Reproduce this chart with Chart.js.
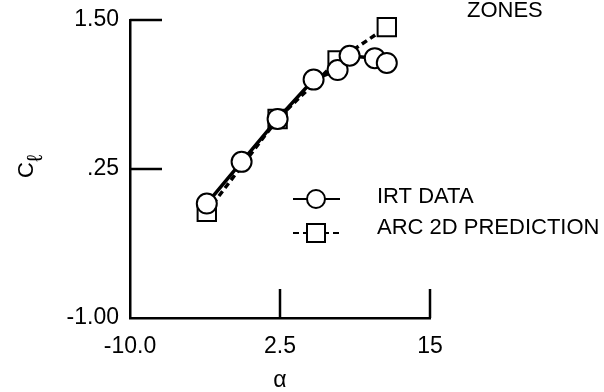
<!DOCTYPE html>
<html>
<head>
<meta charset="utf-8">
<script src="https://cdn.jsdelivr.net/npm/chart.js@4.4.0/dist/chart.umd.min.js"></script>
<style>
    html, body { margin: 0; padding: 0; background: #fff; }
    canvas { display: block; }
</style>
</head>
<body>
<canvas id="chart" width="604" height="392"></canvas>
<script>
// IRT data (circles, solid line)
var irtAlpha = [-3.6, -0.7, 2.3, 5.3, 7.3, 8.3, 10.4, 11.4];
var irtCl = [-0.04, 0.31, 0.67, 1.00, 1.08, 1.20, 1.18, 1.14];

// ARC 2D prediction (squares, dashed line)
var arcAlpha = [-3.6, 2.3, 7.3, 11.4];
var arcCl = [-0.11, 0.67, 1.16, 1.44];

// Axis ticks and labels
var xTicks = [-10, 2.5, 15];
var xTickLabels = ['-10.0', '2.5', '15'];
var yTicks = [-1, 0.25, 1.5];
var yTickLabels = ['-1.00', '.25', '1.50'];

var FONT = "'Liberation Sans', Arial, sans-serif";
var SIZE = 23;
Chart.defaults.font.family = FONT;
Chart.defaults.color = '#000';

function toPoints(xs, ys) {
    return xs.map(function (x, i) { return { x: x, y: ys[i] }; });
}

// Inward tick marks, y-axis title with subscript, legend and stray "ZONES" text
var extras = {
    id: 'extras',
    afterDraw: function (chart) {
        var ctx = chart.ctx;
        var xs = chart.scales.x, ys = chart.scales.y;
        var area = chart.chartArea;
        ctx.save();
        ctx.strokeStyle = '#000';
        ctx.lineWidth = 2.5;
        xTicks.slice(1).forEach(function (v) {
            var px = xs.getPixelForValue(v);
            ctx.beginPath();
            ctx.moveTo(px, area.bottom);
            ctx.lineTo(px, area.bottom - 29);
            ctx.stroke();
        });
        yTicks.slice(1).forEach(function (v) {
            var py = ys.getPixelForValue(v);
            ctx.beginPath();
            ctx.moveTo(area.left, py);
            ctx.lineTo(area.left + 32, py);
            ctx.stroke();
        });

        // y title: C with subscript l
        ctx.fillStyle = '#000';
        ctx.save();
        ctx.translate(33, 178);
        ctx.rotate(-Math.PI / 2);
        ctx.textAlign = 'left';
        ctx.textBaseline = 'alphabetic';
        ctx.font = '22px ' + FONT;
        ctx.fillText('C', 0, 0);
        var cw = ctx.measureText('C').width;
        ctx.font = '22px ' + FONT;
        ctx.fillText('\u2113', cw, 9);
        ctx.restore();

        // legend
        var rows = [{ y: 199, ty: 197 }, { y: 233, ty: 228 }];
        chart.data.datasets.forEach(function (ds, i) {
            var r = rows[i];
            ctx.save();
            ctx.lineWidth = 2;
            ctx.setLineDash(ds.borderDash || []);
            ctx.beginPath();
            ctx.moveTo(293, r.y);
            ctx.lineTo(340, r.y);
            ctx.stroke();
            ctx.restore();
            ctx.save();
            ctx.lineWidth = 2;
            ctx.fillStyle = '#fff';
            ctx.beginPath();
            if (ds.pointStyle === 'rect') {
                ctx.rect(307, r.y - 9, 18, 18);
            } else {
                ctx.arc(316, r.y, 9, 0, Math.PI * 2);
            }
            ctx.fill();
            ctx.stroke();
            ctx.restore();
            ctx.font = '22px ' + FONT;
            ctx.textAlign = 'left';
            ctx.textBaseline = 'middle';
            ctx.fillText(ds.label, 377, r.ty);
        });

        ctx.font = '22px ' + FONT;
        ctx.textAlign = 'left';
        ctx.textBaseline = 'middle';
        ctx.fillText('ZONES', 467, 11);
        ctx.restore();
    }
};

var chart = new Chart(document.getElementById('chart'), {
    type: 'scatter',
    data: {
        datasets: [{
            label: 'IRT DATA',
            data: toPoints(irtAlpha, irtCl),
            showLine: true,
            clip: false,
            borderColor: '#000',
            borderWidth: 3.5,
            pointStyle: 'circle',
            pointRadius: 10,
            pointBorderWidth: 2,
            pointBorderColor: '#000',
            pointBackgroundColor: '#fff'
        }, {
            label: 'ARC 2D PREDICTION',
            data: toPoints(arcAlpha, arcCl),
            showLine: true,
            clip: false,
            borderColor: '#000',
            borderWidth: 3.5,
            borderDash: [6, 4],
            pointStyle: 'rect',
            pointRadius: 13,
            pointBorderWidth: 2,
            pointBorderColor: '#000',
            pointBackgroundColor: '#fff'
        }]
    },
    options: {
        responsive: false,
        animation: false,
        layout: { padding: { left: 0, right: 174, top: 20, bottom: 0 } },
        plugins: {
            legend: { display: false },
            tooltip: { enabled: false }
        },
        scales: {
            x: {
                type: 'linear',
                min: xTicks[0],
                max: xTicks[xTicks.length - 1],
                ticks: {
                    stepSize: 12.5,
                    maxRotation: 0,
                    autoSkip: false,
                    padding: 15,
                    font: { size: SIZE },
                    callback: function (v, i) { return xTickLabels[i]; }
                },
                grid: { display: false, drawTicks: false },
                border: { display: true, color: '#000', width: 2.5 },
                title: { display: true, text: '\u03b1', font: { size: SIZE }, padding: { top: 0, bottom: -2 } },
                afterFit: function (s) { s.height = 74; }
            },
            y: {
                type: 'linear',
                min: yTicks[0],
                max: yTicks[yTicks.length - 1],
                ticks: {
                    stepSize: 1.25,
                    autoSkip: false,
                    padding: 11,
                    font: { size: SIZE, lineHeight: 1 },
                    callback: function (v, i) { return yTickLabels[i]; }
                },
                grid: { display: false, drawTicks: false },
                border: { display: true, color: '#000', width: 2.5 },
                afterFit: function (s) {
                    s.width = 130;
                    s.paddingTop = 0;
                    s.paddingBottom = 0;
                }
            }
        }
    },
    plugins: [extras]
});
</script>
</body>
</html>
